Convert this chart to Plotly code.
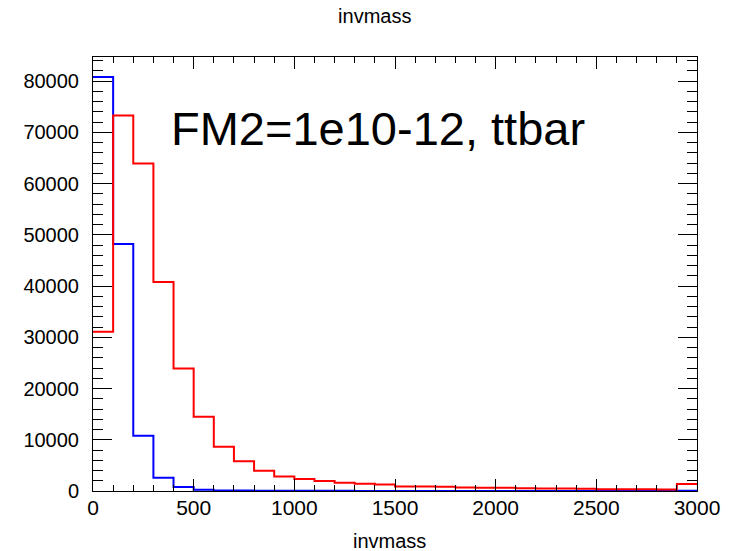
import plotly.graph_objects as go

# bin edges (GeV) and histogram contents
bin_edges = list(range(0, 3001, 100))
blue_counts = [80800, 48200, 10800, 2600, 800, 250, 120, 80, 60, 50,
               40, 30, 25, 20, 15, 12, 10, 8, 6, 5,
               5, 4, 4, 3, 3, 2, 2, 2, 2, 60]
red_counts = [31100, 73300, 63900, 40800, 23900, 14500, 8650, 5800, 3950, 2850,
              2350, 1950, 1600, 1400, 1250, 900, 870, 830, 680, 650,
              620, 520, 500, 480, 460, 350, 340, 320, 310, 1350]

x_ticks = [0, 500, 1000, 1500, 2000, 2500, 3000]
y_ticks = [0, 10000, 20000, 30000, 40000, 50000, 60000, 70000, 80000]

FONT = "Liberation Sans, Arial, Helvetica, sans-serif"

fig = go.Figure()
for counts, color in [(blue_counts, "#0000ff"), (red_counts, "#ff0000")]:
    fig.add_trace(go.Scatter(
        x=bin_edges,
        y=counts + [counts[-1]],
        mode="lines",
        line=dict(color=color, width=2, shape="hv"),
        showlegend=False,
        hoverinfo="skip",
    ))

fig.update_layout(
    width=732, height=551,
    margin=dict(l=93, r=31, t=57, b=60),
    paper_bgcolor="white", plot_bgcolor="white",
    font=dict(family=FONT, color="black", size=20),
    title=dict(text="invmass", x=0.512, xref="container", xanchor="center",
               y=1 - 16 / 551, yref="container", yanchor="middle",
               font=dict(size=20, family=FONT, color="black")),
    showlegend=False,
)

fig.update_xaxes(
    range=[0, 3000], tickvals=x_ticks, ticktext=[str(v) for v in x_ticks],
    showgrid=False, zeroline=False,
    showline=True, linecolor="black", linewidth=1, mirror="ticks",
    ticks="inside", ticklen=12, tickwidth=1, tickcolor="black",
    minor=dict(dtick=100, ticks="inside", ticklen=6, tickcolor="black", showgrid=False),
    tickfont=dict(size=21, family=FONT, color="black"),
    ticklabelstandoff=-2,
)
fig.update_yaxes(
    range=[0, 84700], tickvals=y_ticks, ticktext=[str(v) for v in y_ticks],
    showgrid=False, zeroline=False,
    showline=True, linecolor="black", linewidth=1, mirror="ticks",
    ticks="inside", ticklen=19, tickwidth=1, tickcolor="black",
    minor=dict(dtick=2000, ticks="inside", ticklen=10, tickcolor="black", showgrid=False),
    tickfont=dict(size=20, family=FONT, color="black"),
    ticklabelstandoff=9,
)

fig.add_annotation(
    text="invmass", xref="paper", yref="paper",
    x=(391 - 93) / 607, y=(491 - 541) / 434,
    xanchor="center", yanchor="middle", showarrow=False,
    font=dict(size=20, family=FONT, color="black"),
)
fig.add_annotation(
    text="FM2=1e10-12, ttbar", xref="paper", yref="paper",
    x=(169 - 93) / 607, y=(491 - 128) / 434,
    xanchor="left", yanchor="middle", showarrow=False,
    font=dict(size=47, family=FONT, color="black"),
)

fig.write_html("out.html")
